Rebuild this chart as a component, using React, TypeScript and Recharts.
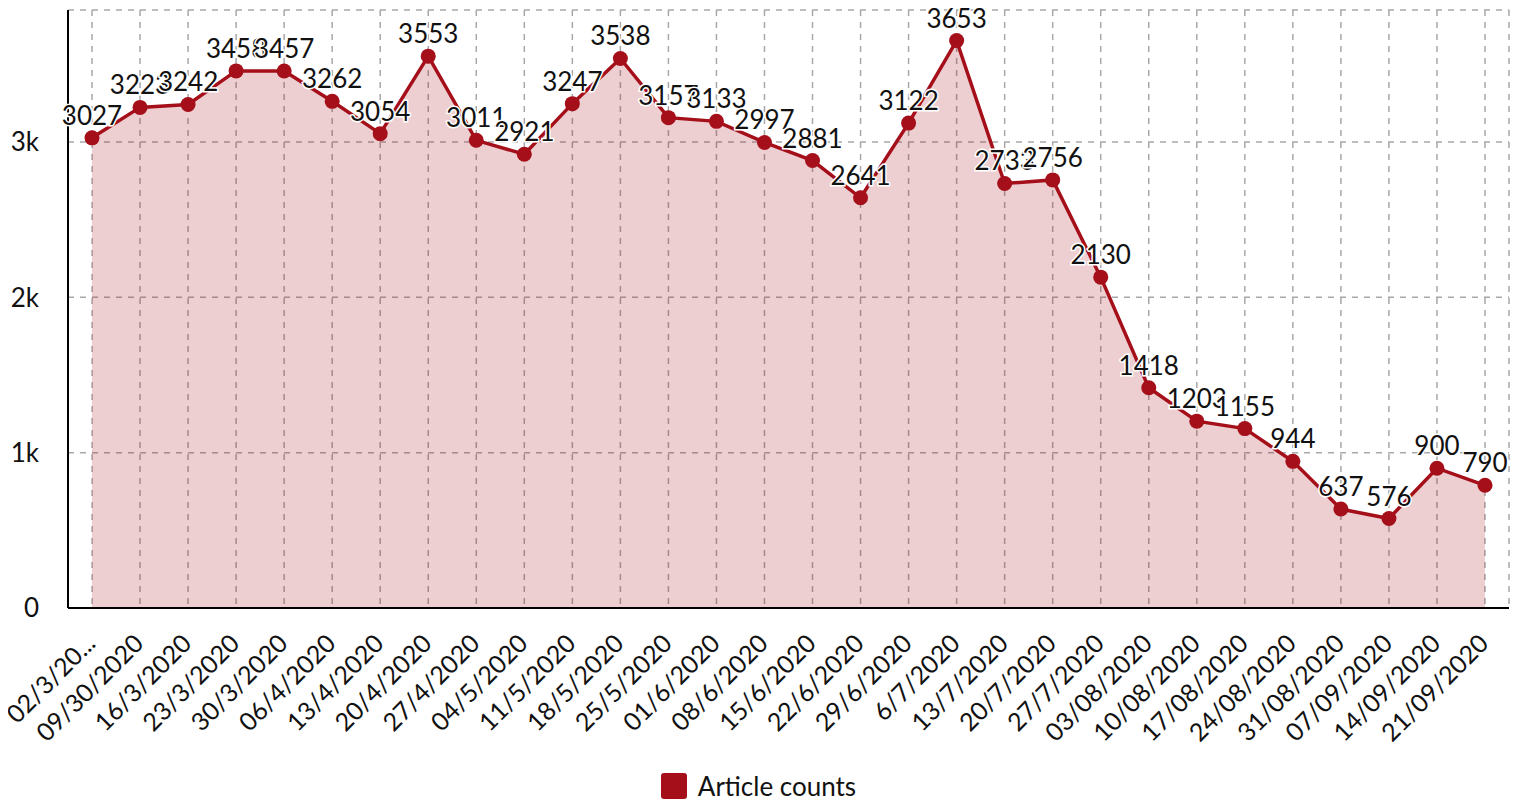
import { AreaChart, Area, XAxis, YAxis, CartesianGrid, Legend, LabelList } from "recharts";

const weeks = [
  "02/3/20...", "09/30/2020", "16/3/2020", "23/3/2020", "30/3/2020", "06/4/2020",
  "13/4/2020", "20/4/2020", "27/4/2020", "04/5/2020", "11/5/2020", "18/5/2020",
  "25/5/2020", "01/6/2020", "08/6/2020", "15/6/2020", "22/6/2020", "29/6/2020",
  "6/7/2020", "13/7/2020", "20/7/2020", "27/7/2020", "03/08/2020", "10/08/2020",
  "17/08/2020", "24/08/2020", "31/08/2020", "07/09/2020", "14/09/2020", "21/09/2020",
];

const articleCounts = [
  3027, 3223, 3242, 3458, 3457, 3262, 3054, 3553, 3011, 2921, 3247, 3538,
  3157, 3133, 2997, 2881, 2641, 3122, 3653, 2733, 2756, 2130, 1418, 1203,
  1155, 944, 637, 576, 900, 790,
];

const yTicks = [0, 1000, 2000, 3000];

const data = weeks.map((week, i) => ({ week, count: articleCounts[i] }));

const RED = "#a50f1a";
const FONT = "Lato, sans-serif";

const XTick = (props: any) => {
  const { x, y, payload } = props;
  return (
    <g transform={`translate(${x + 5}, ${y + 37}) rotate(-45)`}>
      <text x={0} y={0} textAnchor="end" fontSize={25} fontFamily={FONT} fill="#111">
        {payload.value}
      </text>
    </g>
  );
};

const ValueLabel = (props: any) => {
  const { x, y, value } = props;
  return (
    <text
      x={x}
      y={y - 13}
      textAnchor="middle"
      fontSize={26}
      fontFamily={FONT}
      fill="#111"
      stroke="#fff"
      strokeWidth={3}
      paintOrder="stroke"
    >
      {value}
    </text>
  );
};

const LegendBox = () => (
  <div style={{ display: "flex", justifyContent: "center", alignItems: "center", height: 32, fontFamily: FONT }}>
    <span style={{ width: 26, height: 26, background: RED, borderRadius: 3, marginRight: 11, display: "inline-block" }} />
    <span style={{ fontSize: 26, color: "#111" }}>Article counts</span>
  </div>
);

export default function App() {
  return (
    <AreaChart width={1511} height={794} data={data} margin={{ top: 2, right: 10, left: 0, bottom: 0 }}>
      <CartesianGrid stroke="#a8a8a8" strokeDasharray="6 6" strokeWidth={1.5} />
      <XAxis
        dataKey="week"
        interval={0}
        padding={{ left: 24, right: 24 }}
        tickLine={false}
        tickSize={0}
        tickMargin={0}
        axisLine={{ stroke: "#000", strokeWidth: 2 }}
        tick={<XTick />}
        height={162}
      />
      <YAxis
        width={60}
        domain={[0, 3850]}
        ticks={yTicks}
        tickFormatter={(v: number) => (v === 0 ? "0" : `${v / 1000}k`)}
        tickLine={false}
        tickSize={0}
        tickMargin={29}
        axisLine={{ stroke: "#000", strokeWidth: 2 }}
        tick={{ fontSize: 26, fontFamily: FONT, fill: "#111" }}
      />
      <Legend verticalAlign="bottom" content={<LegendBox />} wrapperStyle={{ height: 32 }} />
      <Area
        type="linear"
        dataKey="count"
        name="Article counts"
        stroke={RED}
        strokeWidth={3.5}
        fill={RED}
        fillOpacity={0.2}
        dot={{ r: 7.5, fill: RED, stroke: RED, strokeWidth: 0, fillOpacity: 1 }}
        activeDot={false}
        isAnimationActive={false}
      >
        <LabelList dataKey="count" content={<ValueLabel />} />
      </Area>
    </AreaChart>
  );
}
